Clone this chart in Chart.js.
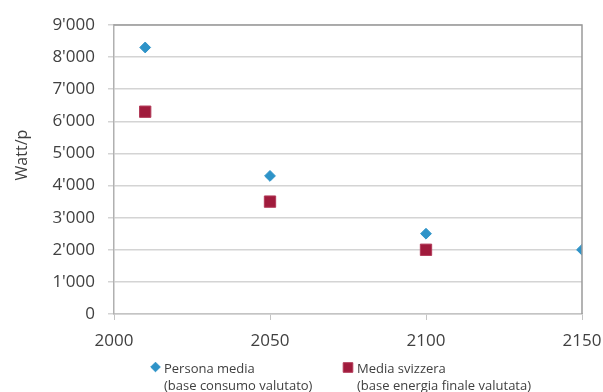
<!DOCTYPE html>
<html>
<head>
<meta charset="utf-8">
<script src="https://cdn.jsdelivr.net/npm/chart.js@4.4.1/dist/chart.umd.min.js"></script>
<style>
  html, body { margin: 0; padding: 0; background: #ffffff; }
  #wrap { width: 603px; height: 392px; position: relative; }
</style>
</head>
<body>
<div id="wrap"><canvas id="chart"></canvas></div>
<script>
// Power demand per person (Watt/p) over time
const yearsPersona = [2010, 2050, 2100, 2150];
const personaMedia = [8300, 4300, 2500, 2000];
const yearsSvizzera = [2010, 2050, 2100];
const mediaSvizzera = [6300, 3500, 2000];

const labelPersona = ['Persona media', '(base consumo valutato)'];
const labelSvizzera = ['Media svizzera', '(base energia finale valutata)'];

const xTicks = [2000, 2050, 2100, 2150];
const yTicks = [0, 1000, 2000, 3000, 4000, 5000, 6000, 7000, 8000, 9000];
const yTitle = 'Watt/p';

const FONT = "'Open Sans', 'DejaVu Sans', sans-serif";
const TEXT = '#404040';

// thousands separator with apostrophe: 9000 -> 9'000
const fmt = v => String(v).replace(/\B(?=(\d{3})+(?!\d))/g, "'");

// top/right frame of the plot area
const frame = {
  id: 'frame',
  afterDatasetsDraw(chart) {
    const { ctx, chartArea: a } = chart;
    ctx.save();
    ctx.strokeStyle = '#9a9a9a';
    ctx.lineWidth = 1.5;
    ctx.beginPath();
    ctx.moveTo(a.left, a.top);
    ctx.lineTo(a.right, a.top);
    ctx.lineTo(a.right, a.bottom);
    ctx.stroke();
    ctx.restore();
  }
};

// rotated y-axis title
const yAxisTitle = {
  id: 'yAxisTitle',
  afterDraw(chart) {
    const { ctx, chartArea: a } = chart;
    ctx.save();
    ctx.translate(27, a.top + (a.bottom - a.top) * 0.45);
    ctx.rotate(-Math.PI / 2);
    ctx.font = '16px ' + FONT;
    ctx.fillStyle = TEXT;
    ctx.textAlign = 'center';
    ctx.textBaseline = 'alphabetic';
    ctx.fillText(yTitle, 0, 0);
    ctx.restore();
  }
};

// two-line legend below the x axis
const bottomLegend = {
  id: 'bottomLegend',
  afterDraw(chart) {
    const { ctx } = chart;
    const items = [
      { ds: 0, mx: 155.5, my: 367, r: 4.8, tx: 164 },
      { ds: 1, mx: 348, my: 367.5, r: 6.8, tx: 357 }
    ];
    ctx.save();
    ctx.font = '13px ' + FONT;
    ctx.fillStyle = TEXT;
    ctx.textAlign = 'left';
    ctx.textBaseline = 'alphabetic';
    items.forEach(it => {
      const ds = chart.data.datasets[it.ds];
      ctx.save();
      ctx.fillStyle = ds.backgroundColor;
      ctx.strokeStyle = ds.borderColor;
      Chart.helpers.drawPoint(ctx, {
        pointStyle: ds.pointStyle, radius: it.r, rotation: 0, borderWidth: 1
      }, it.mx, it.my);
      ctx.restore();
      ds.label.forEach((line, i) => {
        ctx.fillText(line, it.tx, 373 + i * 16.5);
      });
    });
    ctx.restore();
  }
};

new Chart(document.getElementById('chart'), {
  type: 'scatter',
  data: {
    datasets: [
      {
        label: labelPersona,
        data: yearsPersona.map((x, i) => ({ x, y: personaMedia[i] })),
        pointStyle: 'rectRot',
        pointRadius: 5.4,
        pointHoverRadius: 5.4,
        backgroundColor: '#2E93C8',
        borderColor: '#2E93C8',
        borderWidth: 1
      },
      {
        label: labelSvizzera,
        data: yearsSvizzera.map((x, i) => ({ x, y: mediaSvizzera[i] })),
        pointStyle: 'rect',
        pointRadius: 8,
        pointHoverRadius: 8,
        backgroundColor: '#A01B3C',
        borderColor: '#B23A58',
        borderWidth: 1
      }
    ]
  },
  options: {
    responsive: true,
    maintainAspectRatio: false,
    animation: false,
    layout: { padding: { top: 25, right: 21, left: 0, bottom: 0 } },
    plugins: {
      legend: { display: false },
      tooltip: { enabled: false }
    },
    scales: {
      x: {
        type: 'linear',
        min: 2000,
        max: 2150,
        afterBuildTicks: s => { s.ticks = xTicks.map(v => ({ value: v })); },
        afterFit: s => { s.height = 78; s.paddingLeft = 0; s.paddingRight = 0; },
        ticks: {
          callback: v => String(v),
          font: { family: FONT, size: 17 },
          color: TEXT,
          padding: 11,
          maxRotation: 0
        },
        grid: {
          drawOnChartArea: false,
          drawTicks: true,
          tickLength: 6,
          color: '#c4c4c4',
          lineWidth: 1
        },
        border: { color: '#c4c4c4', width: 1.5 }
      },
      y: {
        type: 'linear',
        min: 0,
        max: 9000,
        afterBuildTicks: s => { s.ticks = yTicks.map(v => ({ value: v })); },
        afterFit: s => { s.width = 114; s.paddingTop = 0; s.paddingBottom = 0; },
        ticks: {
          callback: v => fmt(v),
          font: { family: FONT, size: 17 },
          color: TEXT,
          padding: 13
        },
        grid: {
          drawTicks: true,
          tickLength: 6,
          color: '#d4d4d4',
          lineWidth: 1.5
        },
        border: { color: '#b0b0b0', width: 1.5 }
      }
    }
  },
  plugins: [frame, yAxisTitle, bottomLegend]
});
</script>
</body>
</html>
